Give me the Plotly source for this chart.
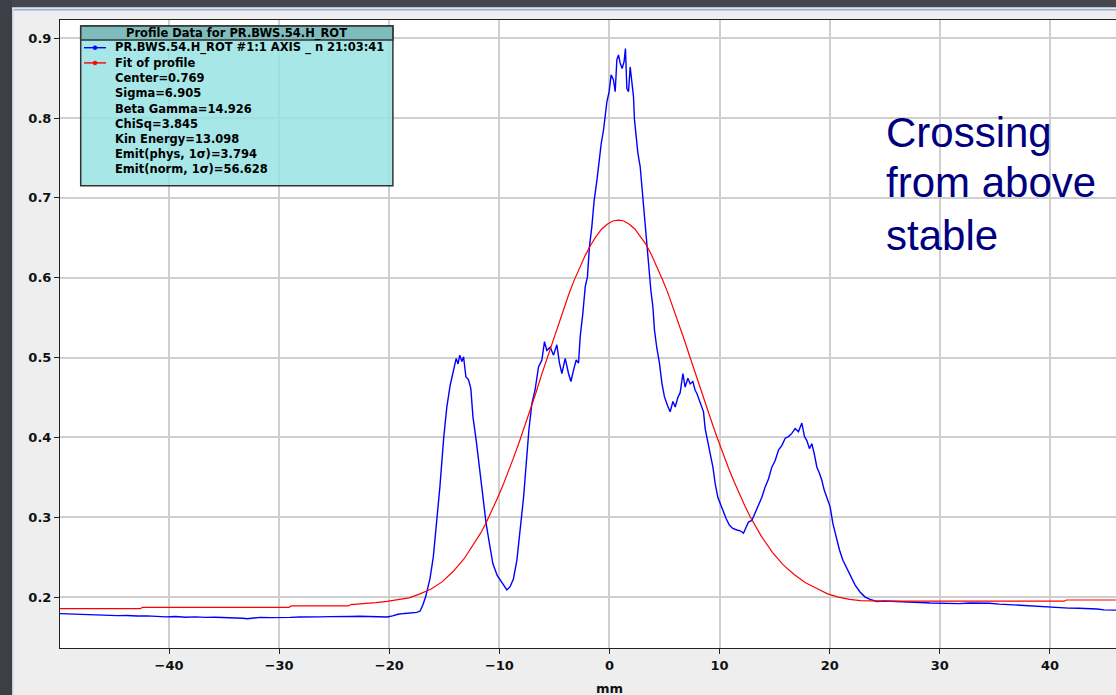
import plotly.graph_objects as go

# ---------------- data ----------------
profile_x = [-49.9, -49.0, -48.1, -47.3, -46.5, -45.6, -44.7, -43.8, -42.9, -42.0, -41.2, -40.3, -39.4, -38.5,
             -37.6, -36.7, -35.8, -34.9, -34.0, -33.3, -32.9, -32.4, -31.7, -30.8, -29.9, -29.0, -28.1, -27.2,
             -26.3, -25.4, -24.5, -23.6, -22.7, -21.8, -20.9, -20.2, -19.7, -19.2, -18.6, -18.0, -17.5, -17.2,
             -16.95, -16.7, -16.3, -16.0, -15.7, -15.4, -15.05, -14.77, -14.47, -14.17, -13.92, -13.75, -13.6,
             -13.4, -13.25, -13.04, -12.8, -12.59, -12.4, -12.1, -11.8, -11.5, -11.2, -10.9, -10.59, -10.2,
             -9.93, -9.62, -9.32, -9.02, -8.72, -8.41, -8.1, -7.8, -7.56, -7.32, -7.05, -6.75, -6.45, -6.14,
             -5.9, -5.69, -5.38, -5.08, -4.78, -4.54, -4.32, -4.02, -3.72, -3.5, -3.27, -3.02, -2.81, -2.66,
             -2.42, -2.2, -2.0, -1.82, -1.6, -1.39, -1.14, -0.96, -0.75, -0.54, -0.39, -0.24, -0.03, 0.15,
             0.36, 0.52, 0.67, 0.82, 0.97, 1.15, 1.33, 1.45, 1.58, 1.73, 1.88, 2.03, 2.18, 2.27, 2.42, 2.58,
             2.79, 2.94, 3.09, 3.24, 3.39, 3.6, 3.76, 3.94, 4.09, 4.3, 4.54, 4.76, 4.99, 5.27, 5.51, 5.76,
             5.97, 6.21, 6.42, 6.67, 6.87, 7.12, 7.33, 7.57, 7.78, 7.94, 8.24, 8.54, 8.69, 8.94, 9.14, 9.39,
             9.6, 9.84, 10.05, 10.3, 10.6, 10.9, 11.2, 11.57, 11.87, 12.17, 12.41, 12.62, 12.93, 13.23,
             13.53, 13.84, 14.14, 14.44, 14.75, 15.05, 15.35, 15.66, 15.96, 16.26, 16.56, 16.86, 17.16,
             17.47, 17.71, 17.92, 18.16, 18.38, 18.59, 18.83, 19.07, 19.29, 19.5, 19.74, 20.04, 20.29,
             20.59, 20.89, 21.2, 21.56, 21.92, 22.31, 22.77, 23.22, 23.67, 24.28, 25.0, 25.8, 26.6, 27.4,
             28.2, 29.1, 30.0, 30.9, 31.8, 32.7, 33.6, 34.5, 35.4, 36.3, 37.2, 38.1, 39.0, 39.9, 40.8, 41.7,
             42.6, 43.5, 44.3, 44.9, 45.5, 46.0]
profile_y = [0.1792, 0.1788, 0.1778, 0.1782, 0.1772, 0.1775, 0.1768, 0.1770, 0.1762, 0.1765, 0.1758, 0.1752,
             0.1756, 0.1748, 0.1752, 0.1745, 0.1748, 0.1742, 0.1745, 0.1735, 0.1728, 0.1738, 0.1746, 0.1742,
             0.1748, 0.1745, 0.1750, 0.1747, 0.1752, 0.1755, 0.1752, 0.1757, 0.1760, 0.1756, 0.1752, 0.1750,
             0.1765, 0.1785, 0.1795, 0.1800, 0.1808, 0.1825, 0.1900, 0.2000, 0.223, 0.250, 0.292, 0.338,
             0.400, 0.438, 0.465, 0.484, 0.499, 0.492, 0.503, 0.495, 0.501, 0.476, 0.472, 0.461, 0.426,
             0.396, 0.359, 0.325, 0.292, 0.267, 0.242, 0.227, 0.221, 0.215, 0.209, 0.213, 0.223, 0.246,
             0.288, 0.325, 0.367, 0.409, 0.442, 0.460, 0.488, 0.497, 0.520, 0.509, 0.513, 0.503, 0.516,
             0.493, 0.480, 0.499, 0.480, 0.470, 0.484, 0.497, 0.493, 0.526, 0.555, 0.589, 0.601, 0.639,
             0.664, 0.697, 0.722, 0.745, 0.768, 0.785, 0.806, 0.820, 0.833, 0.854, 0.848, 0.833, 0.873,
             0.879, 0.869, 0.862, 0.871, 0.887, 0.837, 0.833, 0.864, 0.848, 0.827, 0.798, 0.777, 0.756,
             0.739, 0.714, 0.693, 0.668, 0.639, 0.610, 0.584, 0.564, 0.534, 0.512, 0.493, 0.468, 0.451,
             0.440, 0.432, 0.445, 0.438, 0.450, 0.456, 0.480, 0.463, 0.474, 0.467, 0.470, 0.459, 0.455,
             0.444, 0.432, 0.411, 0.396, 0.380, 0.363, 0.342, 0.325, 0.317, 0.307, 0.298, 0.290, 0.286,
             0.284, 0.283, 0.280, 0.288, 0.294, 0.296, 0.305, 0.315, 0.325, 0.338, 0.348, 0.363, 0.371,
             0.384, 0.390, 0.399, 0.401, 0.405, 0.411, 0.407, 0.418, 0.401, 0.396, 0.386, 0.392, 0.380,
             0.363, 0.355, 0.346, 0.334, 0.325, 0.313, 0.292, 0.275, 0.259, 0.246, 0.236, 0.225, 0.215,
             0.206, 0.200, 0.197, 0.1945, 0.1950, 0.1946, 0.1948, 0.1938, 0.1932, 0.1925, 0.1920, 0.1922,
             0.1918, 0.1925, 0.1928, 0.1922, 0.1912, 0.1905, 0.1892, 0.1882, 0.1876, 0.1874, 0.1868,
             0.1862, 0.1860, 0.1856, 0.1850, 0.1840, 0.1835, 0.1836]

fit_x = [-49.9, -42.6, -42.4, -29.1, -28.9, -23.7, -23.5, -22.2, -21.2, -20.2, -19.2, -18.2, -17.2, -16.2,
         -15.2, -14.2, -13.2, -12.2, -11.7, -11.2, -10.7, -10.2, -9.7, -9.2, -8.7, -8.2, -7.7, -7.2, -6.7,
         -6.2, -5.7, -5.2, -4.7, -4.2, -3.7, -3.2, -2.7, -2.2, -1.7, -1.2, -0.7, -0.2, 0.3, 0.8, 1.3, 1.8,
         2.3, 2.8, 3.3, 3.8, 4.3, 4.8, 5.3, 5.8, 6.3, 6.8, 7.3, 7.8, 8.3, 8.8, 9.3, 9.8, 10.3, 10.8, 11.3,
         11.8, 12.3, 12.8, 13.3, 13.8, 14.8, 15.8, 16.8, 17.8, 18.8, 19.8, 20.8, 21.8, 22.8, 23.8, 25.0,
         41.3, 41.5, 46.0]
fit_y = [0.1856, 0.1856, 0.1872, 0.1872, 0.1889, 0.1889, 0.1906, 0.1915, 0.193, 0.1945, 0.1965, 0.199,
         0.204, 0.210, 0.219, 0.232, 0.248, 0.269, 0.280, 0.293, 0.3075, 0.323, 0.339, 0.356, 0.375, 0.394,
         0.414, 0.434, 0.455, 0.477, 0.498, 0.519, 0.540, 0.560, 0.579, 0.597, 0.613, 0.628, 0.641, 0.652,
         0.661, 0.667, 0.671, 0.672, 0.671, 0.667, 0.661, 0.652, 0.642, 0.629, 0.6145, 0.598, 0.581, 0.562,
         0.542, 0.522, 0.501, 0.480, 0.4595, 0.439, 0.4186, 0.399, 0.380, 0.362, 0.345, 0.329, 0.314, 0.300,
         0.288, 0.276, 0.256, 0.240, 0.228, 0.218, 0.211, 0.204, 0.200, 0.197, 0.1955, 0.1950, 0.1948,
         0.1948, 0.1963, 0.1963]

x_ticks = [-40, -30, -20, -10, 0, 10, 20, 30, 40]
y_ticks = [0.2, 0.3, 0.4, 0.5, 0.6, 0.7, 0.8, 0.9]

legend_title = "Profile Data for PR.BWS.54.H_ROT"
series_names = ["PR.BWS.54.H_ROT #1:1 AXIS _ n 21:03:41", "Fit of profile"]
fit_params = ["Center=0.769", "Sigma=6.905", "Beta Gamma=14.926", "ChiSq=3.845",
              "Kin Energy=13.098", "Emit(phys, 1σ)=3.794", "Emit(norm, 1σ)=56.628"]
note_lines = ["Crossing", "from above", "stable"]

# ---------------- layout geometry ----------------
W, H = 1116, 695
ML, MR, MT, MB = 60, 0, 20, 47
PW, PH = W - ML - MR, H - MT - MB


def pxx(px):
    return (px - ML) / PW


def pxy(py):
    return (H - MB - py) / PH


fig = go.Figure()
fig.add_trace(go.Scatter(x=profile_x, y=profile_y, mode="lines", name=series_names[0],
                         line=dict(color="#0000ff", width=1.4), showlegend=False))
fig.add_trace(go.Scatter(x=fit_x, y=fit_y, mode="lines", name=series_names[1],
                         line=dict(color="#ff0000", width=1.2), showlegend=False))

shapes = []
# window decoration
shapes.append(dict(type="rect", xref="paper", yref="paper", x0=pxx(0), x1=pxx(12), y0=pxy(H), y1=pxy(0),
                   fillcolor="#3c3f46", line=dict(width=0), layer="above"))
shapes.append(dict(type="rect", xref="paper", yref="paper", x0=pxx(12), x1=pxx(13.5), y0=pxy(H), y1=pxy(9),
                   fillcolor="#c8d2e4", line=dict(width=0), layer="above"))
shapes.append(dict(type="rect", xref="paper", yref="paper", x0=pxx(12), x1=pxx(W), y0=pxy(7.5), y1=pxy(0),
                   fillcolor="#44474e", line=dict(width=0), layer="above"))
shapes.append(dict(type="rect", xref="paper", yref="paper", x0=pxx(12), x1=pxx(W), y0=pxy(9), y1=pxy(7.5),
                   fillcolor="#e2e7ef", line=dict(width=0), layer="above"))
shapes.append(dict(type="rect", xref="paper", yref="paper", x0=pxx(13.5), x1=pxx(W), y0=pxy(10.5), y1=pxy(9),
                   fillcolor="#98aed8", line=dict(width=0), layer="above"))

# legend box
bx0, bx1, by0, by1, hy = 80.7, 392.9, 26, 185.7, 40
shapes.append(dict(type="rect", xref="paper", yref="paper", x0=pxx(bx0), x1=pxx(bx1), y0=pxy(by1), y1=pxy(by0),
                   fillcolor="rgba(148,226,226,0.82)", line=dict(color="#333333", width=1.5), layer="above"))
shapes.append(dict(type="rect", xref="paper", yref="paper", x0=pxx(bx0), x1=pxx(bx1), y0=pxy(hy), y1=pxy(by0),
                   fillcolor="rgba(118,178,178,0.8)", line=dict(color="#333333", width=1.5), layer="above"))

annotations = []
annotations.append(dict(xref="paper", yref="paper", x=pxx((bx0 + bx1) / 2), y=pxy(33), text=legend_title,
                        showarrow=False, xanchor="center", yanchor="middle",
                        font=dict(family="DejaVu Sans", size=11.5, color="#000", weight="bold")))
row0, rowstep = 47.7, 15.2
rows = series_names + fit_params
for i, t in enumerate(rows):
    ry = row0 + rowstep * i
    annotations.append(dict(xref="paper", yref="paper", x=pxx(113), y=pxy(ry), text=t, showarrow=False,
                            xanchor="left", yanchor="middle",
                            font=dict(family="DejaVu Sans", size=11.5, color="#000", weight="bold")))
for i, col in enumerate(["#0000ff", "#ff0000"]):
    ry = row0 + rowstep * i
    shapes.append(dict(type="line", xref="paper", yref="paper", x0=pxx(84), x1=pxx(106), y0=pxy(ry), y1=pxy(ry),
                       line=dict(color=col, width=1.4), layer="above"))
    shapes.append(dict(type="circle", xref="paper", yref="paper", x0=pxx(93), x1=pxx(97), y0=pxy(ry + 2),
                       y1=pxy(ry - 2), fillcolor=col, line=dict(color=col, width=0.5), layer="above"))

# note text
for t, base in zip(note_lines, [147.3, 196.7, 250.0]):
    annotations.append(dict(xref="paper", yref="paper", x=pxx(884), y=pxy(base - 14.5), text=t, showarrow=False,
                            xanchor="left", yanchor="middle",
                            font=dict(family="Liberation Sans, Arial", size=42, color="#00007f")))

# x axis title
annotations.append(dict(xref="paper", yref="paper", x=pxx(609.3), y=pxy(688), text="mm", showarrow=False,
                        xanchor="center", yanchor="middle",
                        font=dict(family="DejaVu Sans", size=13, color="#111", weight="bold")))

fig.update_layout(
    width=W, height=H,
    margin=dict(l=ML, r=MR, t=MT, b=MB, pad=0),
    paper_bgcolor="#eeeeee", plot_bgcolor="#ffffff",
    shapes=shapes, annotations=annotations,
    xaxis=dict(range=[-49.9, 46.0], tickvals=x_ticks, showgrid=True, gridcolor="#cfcfcf", gridwidth=1.5,
               zeroline=False, showline=True, linecolor="#222", linewidth=1, mirror=True,
               ticks="outside", ticklen=5, tickcolor="#222",
               tickfont=dict(family="DejaVu Sans", size=13, color="#111", weight="bold")),
    yaxis=dict(range=[0.1362, 0.9228], tickvals=y_ticks, ticktext=[f"{v:.1f}" for v in y_ticks],
               showgrid=True, gridcolor="#cfcfcf", gridwidth=1.5,
               zeroline=False, showline=True, linecolor="#222", linewidth=1, mirror=False,
               ticks="outside", ticklen=5, tickcolor="#222",
               tickfont=dict(family="DejaVu Sans", size=13, color="#111", weight="bold")),
)

fig.write_html("out.html")
